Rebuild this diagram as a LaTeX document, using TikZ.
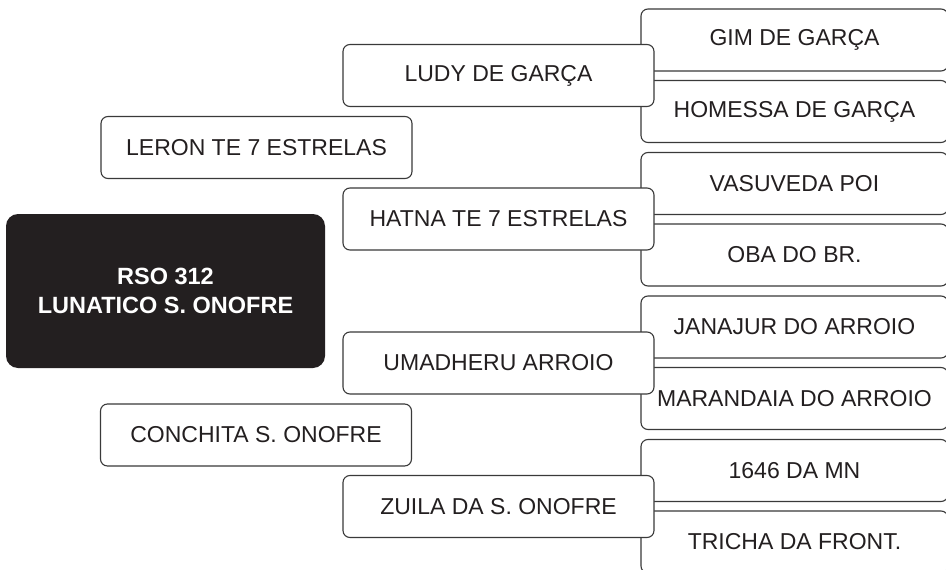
\documentclass[tikz,border=0pt]{standalone}
\usepackage{fontspec}
\setmainfont{Liberation Sans}
\definecolor{ink}{HTML}{231F20}
\definecolor{edge}{HTML}{3A3A3A}
\begin{document}
\begin{tikzpicture}[x=1pt,y=-1pt,
  box/.style={draw=edge, line width=1.1pt, fill=white, rounded corners=7pt,
    text=ink, font=\fontsize{23}{28}\selectfont, inner sep=0pt,
    minimum width=311pt, minimum height=62pt, anchor=center},
  rbox/.style={box, minimum width=307pt, minimum height=62pt},
  mainbox/.style={fill=ink, draw=none, rounded corners=12pt, text=white,
    font=\fontsize{23.5}{29}\selectfont\bfseries, align=center,
    minimum width=319pt, minimum height=154pt, inner sep=0pt, anchor=center}]
\clip (0,0) rectangle (946,570);
\fill[white] (0,0) rectangle (946,570);
% right column
\node[rbox] (gim) at (794.5,40) {GIM DE GARÇA};
\node[rbox] (hom) at (794.5,111.5) {HOMESSA DE GARÇA};
\node[rbox] (vas) at (794.5,183.5) {VASUVEDA POI};
\node[rbox] (oba) at (794.5,255) {OBA DO BR.};
\node[rbox] (jan) at (794.5,327) {JANAJUR DO ARROIO};
\node[rbox] (mar) at (794.5,398.5) {MARANDAIA DO ARROIO};
\node[rbox] (num) at (794.5,470.5) {1646 DA MN};
\node[rbox] (tri) at (794.5,542) {TRICHA DA FRONT.};
% middle column
\node[box] (ludy) at (498.5,75.5) {LUDY DE GARÇA};
\node[box] (hatna) at (498.5,219) {HATNA TE 7 ESTRELAS};
\node[box] (uma) at (498.5,363) {UMADHERU ARROIO};
\node[box] (zuila) at (498.5,506.5) {ZUILA DA S. ONOFRE};
% left column
\node[box] (leron) at (256.5,147.5) {LERON TE 7 ESTRELAS};
\node[box] (conch) at (256,435) {CONCHITA S. ONOFRE};
\node[mainbox] (main) at (165.5,291) {RSO 312\\LUNATICO S. ONOFRE};
\end{tikzpicture}
\end{document}
